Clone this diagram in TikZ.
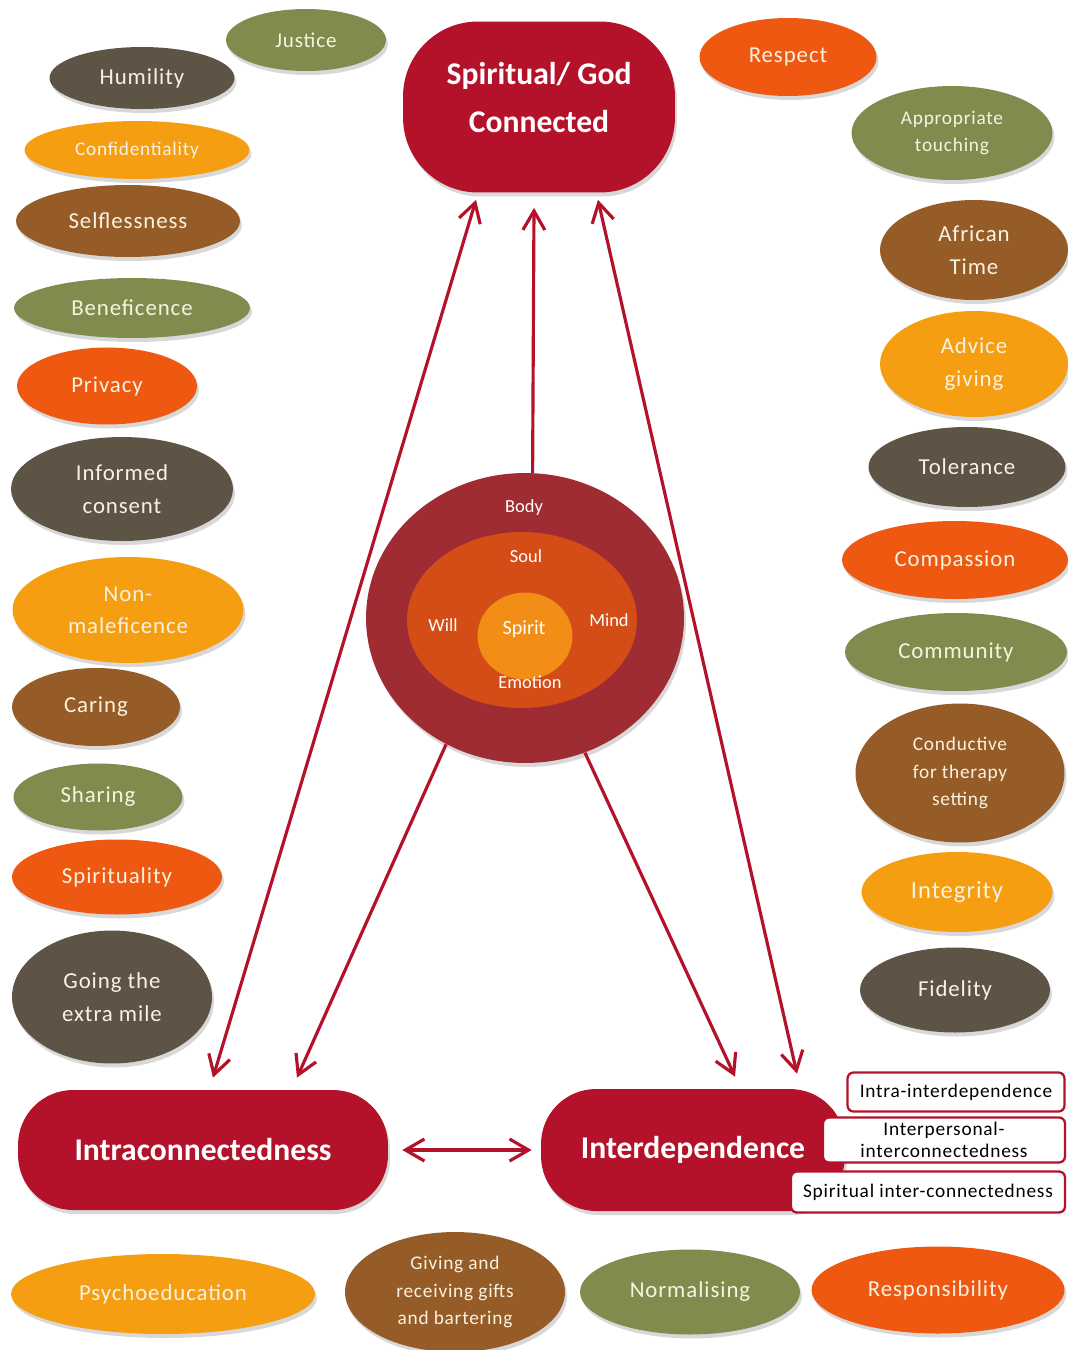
\documentclass[tikz,border=0pt]{standalone}
\usepackage{fontspec}
\setmainfont{Carlito}
\newfontfamily\ovalfont{Carlito}[LetterSpace=4.0]
\usetikzlibrary{shapes.geometric,arrows.meta,shadows}

\definecolor{olivegr}{RGB}{128,140,78}
\definecolor{darkgr}{RGB}{94,84,70}
\definecolor{amber}{RGB}{245,158,18}
\definecolor{brownish}{RGB}{150,92,40}
\definecolor{redorange}{RGB}{238,88,16}
\definecolor{crimson}{RGB}{180,18,42}
\definecolor{bodyred}{RGB}{158,44,50}
\definecolor{soulor}{RGB}{212,76,22}
\definecolor{spiritor}{RGB}{242,142,22}
\definecolor{cream}{RGB}{248,242,225}

\tikzset{
  value/.style={ellipse, inner sep=0pt, align=center, text=cream,
    font=\ovalfont\fontsize{13}{18.5}\selectfont,
    drop shadow={opacity=0.3, shadow xshift=0.04cm, shadow yshift=-0.08cm}},
  smallval/.style={value, font=\ovalfont\fontsize{11}{15.6}\selectfont},
  bigbox/.style={rectangle, fill=crimson, text=white, align=center,
    font=\bfseries\fontsize{18}{27.5}\selectfont,
    drop shadow={opacity=0.3, shadow xshift=0.04cm, shadow yshift=-0.08cm}},
  subbox/.style={rectangle, draw=crimson, line width=1.3pt, fill=white,
    rounded corners=0.12cm, inner sep=1pt, align=center,
    font=\ovalfont\fontsize{11}{12.5}\selectfont},
  ringtxt/.style={text=white, font=\fontsize{10.5}{12}\selectfont},
  arr/.style={crimson, line width=1.8pt, -{Straight Barb[length=0.38cm,width=0.44cm]}},
  dblarr/.style={arr, {Straight Barb[length=0.38cm,width=0.44cm]}-{Straight Barb[length=0.38cm,width=0.44cm]}},
}

\begin{document}
\begin{tikzpicture}[x=0.02cm, y=-0.02cm]
    \fill[white] (0,0) rectangle (1068,1350);
    \useasboundingbox (0,0) rectangle (1068,1350);

    % left column
    \node[value, fill=olivegr, minimum width=3.2cm, minimum height=1.24cm, font=\ovalfont\fontsize{12}{16}\selectfont] (justice) at (306,40) {Justice};
    \node[value, fill=darkgr, minimum width=3.7cm, minimum height=1.24cm] (humility) at (142,78) {Humility};
    \node[smallval, fill=amber, minimum width=4.5cm, minimum height=1.16cm] (confid) at (137,150) {Confidentiality};
    \node[value, fill=brownish, minimum width=4.48cm, minimum height=1.44cm] (selfless) at (128,221) {Selflessness};
    \node[value, fill=olivegr, minimum width=4.72cm, minimum height=1.2cm] (benef) at (132,308) {Beneficence};
    \node[value, fill=redorange, minimum width=3.6cm, minimum height=1.54cm] (privacy) at (107,386) {Privacy};
    \node[value, fill=darkgr, minimum width=4.44cm, minimum height=2.08cm] (informed) at (122,489) {Informed\\consent};
    \node[value, fill=amber, minimum width=4.62cm, minimum height=2.12cm] (nonmal) at (128,610) {Non-\\maleficence};
    \node[value, fill=brownish, minimum width=3.36cm, minimum height=1.56cm] (caring) at (96,707) {Caring};
    \node[value, fill=olivegr, minimum width=3.38cm, minimum height=1.34cm] (sharing) at (98,797) {Sharing};
    \node[value, fill=redorange, minimum width=4.2cm, minimum height=1.5cm] (spiritual) at (117,877) {Spirituality};
    \node[value, fill=darkgr, minimum width=4cm, minimum height=2.66cm] (extramile) at (112,997) {Going the\\extra mile};

    % right column
    \node[value, fill=redorange, minimum width=3.54cm, minimum height=1.56cm] (respect) at (788,57) {Respect};
    \node[smallval, fill=olivegr, minimum width=4.02cm, minimum height=1.88cm] (touching) at (952,133) {Appropriate\\touching};
    \node[value, fill=brownish, minimum width=3.76cm, minimum height=2cm] (african) at (974,250) {African\\Time};
    \node[value, fill=amber, minimum width=3.76cm, minimum height=2.12cm] (advice) at (974,364) {Advice\\giving};
    \node[value, fill=darkgr, minimum width=3.94cm, minimum height=1.6cm] (tolerance) at (967,467) {Tolerance};
    \node[value, fill=redorange, minimum width=4.52cm, minimum height=1.56cm] (compassion) at (955,560) {Compassion};
    \node[value, fill=olivegr, minimum width=4.44cm, minimum height=1.56cm] (community) at (956,652) {Community};
    \node[smallval, fill=brownish, minimum width=4.18cm, minimum height=2.78cm] (conductive) at (960,773) {Conductive\\for therapy\\setting};
    \node[value, fill=amber, minimum width=3.82cm, minimum height=1.6cm, font=\ovalfont\fontsize{14}{18}\selectfont] (integrity) at (957,892) {Integrity};
    \node[value, fill=darkgr, minimum width=3.8cm, minimum height=1.7cm] (fidelity) at (955,990) {Fidelity};

    % bottom row
    \node[value, fill=amber, minimum width=6.08cm, minimum height=1.6cm] (psycho) at (163,1294) {Psychoeducation};
    \node[smallval, fill=brownish, minimum width=4.4cm, minimum height=2.4cm] (gifts) at (455,1292) {Giving and\\receiving gifts\\and bartering};
    \node[value, fill=olivegr, minimum width=4.4cm, minimum height=1.7cm] (normal) at (690,1292) {Normalising};
    \node[value, fill=redorange, minimum width=5.06cm, minimum height=1.74cm] (respons) at (938,1290) {Responsibility};

    % main boxes
    \node[bigbox, rounded corners=1.5cm, minimum width=5.44cm, minimum height=3.42cm, text depth=0.38cm] (god) at (539,107) {Spiritual/ God\\Connected};
    \node[bigbox, rounded corners=1.1cm, minimum width=7.4cm, minimum height=2.4cm] (intra) at (203,1150) {Intraconnectedness};
    \node[bigbox, rounded corners=1.1cm, minimum width=6.08cm, minimum height=2.44cm] (interdep) at (693,1150) {Interdependence};
    \node[subbox, minimum width=4.34cm, minimum height=0.78cm] (intrainter) at (956,1092) {Intra-interdependence};
    \node[subbox, minimum width=4.84cm, minimum height=0.9cm] (interpers) at (944,1140) {Interpersonal-\\interconnectedness};
    \node[subbox, minimum width=5.48cm, minimum height=0.82cm] (spirinter) at (928,1192) {Spiritual inter-connectedness};

    % body, soul and spirit
    \node[ellipse, fill=bodyred, minimum width=6.36cm, minimum height=5.8cm,
      drop shadow={opacity=0.3, shadow xshift=0.04cm, shadow yshift=-0.08cm}] (body) at (525,618) {};
    \node[ellipse, fill=soulor, minimum width=4.6cm, minimum height=3.52cm] (soul) at (522,620) {};
    \node[ellipse, fill=spiritor, minimum width=1.9cm, minimum height=1.74cm] (spirit) at (525,636) {};
    \node[ringtxt] (bodytxt) at (524,508) {Body};
    \node[ringtxt] (soultxt) at (526,556) {Soul};
    \node[ringtxt] (willtxt) at (443,625) {Will};
    \node[ringtxt, font=\fontsize{11.5}{13}\selectfont] (spirittxt) at (524,629) {Spirit};
    \node[ringtxt] (mindtxt) at (609,620) {Mind};
    \node[ringtxt] (emotiontxt) at (530,682) {Emotion};

    % arrows
    \draw[dblarr] ([xshift=0.2cm,yshift=0.24cm]intra.north) -- ([xshift=-1.26cm,yshift=-0.14cm]god.south);
    \draw[arr] (body.87) -- ([xshift=-0.1cm,yshift=-0.3cm]god.south);
    \draw[dblarr] ([xshift=2.08cm,yshift=0.3cm]interdep.north) -- ([xshift=1.18cm,yshift=-0.14cm]god.south);
    \draw[arr] (body.238) -- ([xshift=1.88cm,yshift=0.24cm]intra.north);
    \draw[arr] (body.294) -- ([xshift=0.84cm,yshift=0.24cm]interdep.north);
    \draw[dblarr, shorten <=0.28cm, shorten >=0.18cm] (intra.east) -- (interdep.west);
\end{tikzpicture}
\end{document}
